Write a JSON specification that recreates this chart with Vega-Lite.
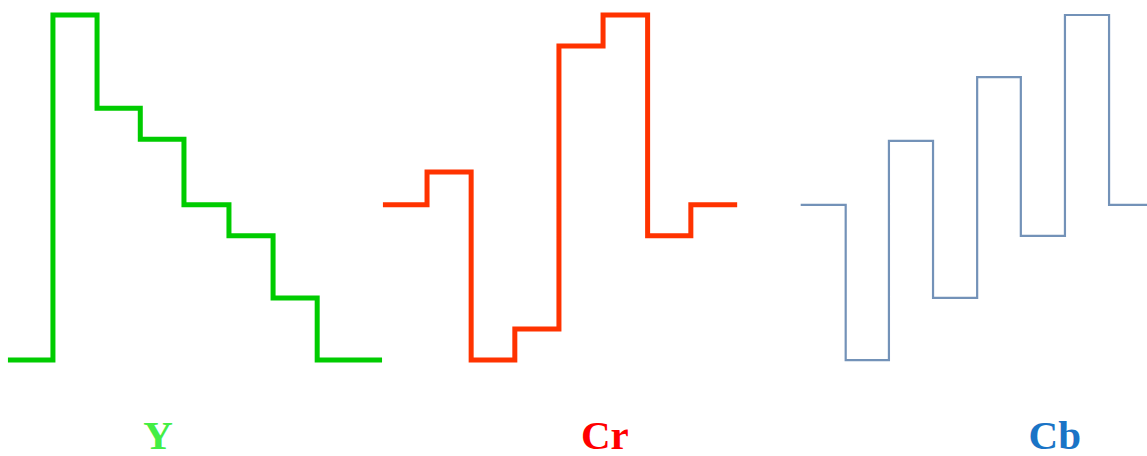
{
  "$schema": "https://vega.github.io/schema/vega-lite/v6.json",
  "width": 1147,
  "height": 456,
  "autosize": "none",
  "padding": 0,
  "background": "white",
  "config": {"view": {"stroke": null}},
  "datasets": {
    "wave": [
      {"signal": "Y", "t": 0.18, "level": 0},
      {"signal": "Y", "t": 1.2, "level": 1},
      {"signal": "Y", "t": 2.2, "level": 0.73},
      {"signal": "Y", "t": 3.18, "level": 0.64},
      {"signal": "Y", "t": 4.17, "level": 0.45},
      {"signal": "Y", "t": 5.19, "level": 0.36},
      {"signal": "Y", "t": 6.19, "level": 0.18},
      {"signal": "Y", "t": 7.19, "level": 0},
      {"signal": "Y", "t": 8.66, "level": 0},
      {"signal": "Cr", "t": 8.68, "level": 0.45},
      {"signal": "Cr", "t": 9.68, "level": 0.545},
      {"signal": "Cr", "t": 10.68, "level": 0},
      {"signal": "Cr", "t": 11.67, "level": 0.09},
      {"signal": "Cr", "t": 12.67, "level": 0.91},
      {"signal": "Cr", "t": 13.67, "level": 1},
      {"signal": "Cr", "t": 14.68, "level": 0.36},
      {"signal": "Cr", "t": 15.66, "level": 0.45},
      {"signal": "Cr", "t": 16.71, "level": 0.45},
      {"signal": "Cb", "t": 18.15, "level": 0.45},
      {"signal": "Cb", "t": 19.17, "level": 0},
      {"signal": "Cb", "t": 20.15, "level": 0.635},
      {"signal": "Cb", "t": 21.15, "level": 0.18},
      {"signal": "Cb", "t": 22.15, "level": 0.82},
      {"signal": "Cb", "t": 23.14, "level": 0.36},
      {"signal": "Cb", "t": 24.14, "level": 1},
      {"signal": "Cb", "t": 25.14, "level": 0.45},
      {"signal": "Cb", "t": 26.0, "level": 0.45}
    ],
    "labels": [
      {"signal": "Y", "t": 3.58, "level": -0.258},
      {"signal": "Cr", "t": 13.71, "level": -0.258},
      {"signal": "Cb", "t": 23.91, "level": -0.258}
    ]
  },
  "encoding": {
    "x": {"field": "t", "type": "quantitative", "scale": {"domain": [0, 26], "nice": false, "zero": false}, "axis": null},
    "y": {"field": "level", "type": "quantitative", "scale": {"domain": [-0.278, 1.0435], "nice": false, "zero": false}, "axis": null}
  },
  "layer": [
    {
      "data": {"name": "wave"},
      "transform": [{"filter": "datum.signal === 'Y'"}],
      "mark": {"type": "line", "interpolate": "step-after", "color": "#00cc00", "strokeWidth": 5, "strokeJoin": "miter"},
      "encoding": {}
    },
    {
      "data": {"name": "wave"},
      "transform": [{"filter": "datum.signal === 'Cr'"}],
      "mark": {"type": "line", "interpolate": "step-after", "color": "#ff3300", "strokeWidth": 5, "strokeJoin": "miter"},
      "encoding": {}
    },
    {
      "data": {"name": "wave"},
      "transform": [{"filter": "datum.signal === 'Cb'"}],
      "mark": {"type": "line", "interpolate": "step-after", "color": "#7392b8", "strokeWidth": 2.2, "strokeJoin": "miter"},
      "encoding": {}
    },
    {
      "data": {"name": "labels"},
      "mark": {"type": "text", "font": "Liberation Serif", "fontWeight": "bold", "fontSize": 41, "align": "center", "baseline": "alphabetic"},
      "encoding": {
        "text": {"field": "signal"},
        "color": {"field": "signal", "type": "nominal", "scale": {"domain": ["Y", "Cr", "Cb"], "range": ["#44ee44", "#ff0000", "#1a74c6"]}, "legend": null}
      }
    }
  ]
}
